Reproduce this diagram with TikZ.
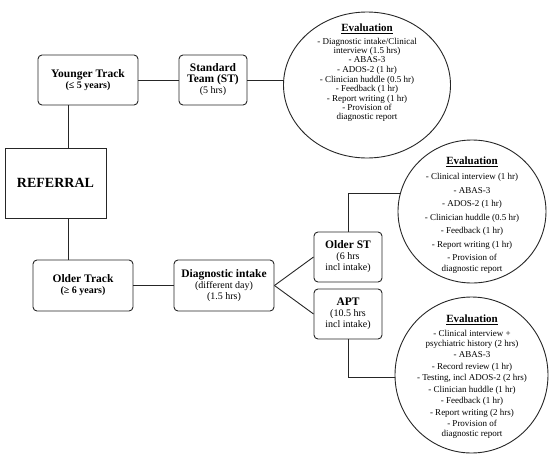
\documentclass[tikz,border=0pt]{standalone}
\usepackage{fontspec}
\setmainfont{Liberation Serif}
\usetikzlibrary{shapes.geometric}
\tikzset{
  box/.style={draw=black!85, line width=0.9pt, rounded corners=4pt, align=center, inner sep=0pt},
  sqbox/.style={draw=black!85, line width=0.9pt, align=center, inner sep=0pt},
  evalcirc/.style={draw=black!85, line width=0.9pt, ellipse, inner sep=0pt},
  conn/.style={draw=black!85, line width=0.9pt},
  evtext/.style={align=center, inner sep=0pt, anchor=north},
}
\newcommand{\subt}[1]{{\fontsize{10}{11.5}\selectfont #1}}
\newcommand{\bt}[1]{{\fontsize{11.5}{13}\selectfont\bfseries #1}}
\newcommand{\evtitle}{{\fontsize{11}{12}\selectfont\bfseries\underline{Evaluation}}}
\begin{document}
\begin{tikzpicture}[x=1pt,y=-1pt]
\useasboundingbox (0,0) rectangle (550,456);
% boxes
\node[box, minimum width=100pt, minimum height=50pt] (yt) at (88,80)
  {\bt{Younger Track}\\[-1pt]\subt{\bfseries (≤ 5 years)}};
\node[box, minimum width=68pt, minimum height=50pt] (st) at (213,80)
  {\bt{Standard}\\[-1pt]\bt{Team (ST)}\\[-1pt]\subt{(5 hrs)}};
\node[sqbox, minimum width=101pt, minimum height=70pt] (ref) at (55.5,183)
  {{\fontsize{14}{16}\selectfont\bfseries REFERRAL}};
\node[box, minimum width=100pt, minimum height=51pt] (ot) at (83,285.5)
  {\bt{Older Track}\\[-1pt]\subt{\bfseries (≥ 6 years)}};
\node[box, minimum width=100pt, minimum height=51pt] (di) at (224,285.5)
  {\bt{Diagnostic intake}\\[-1pt]\subt{(different day)}\\[-1pt]\subt{(1.5 hrs)}};
\node[box, minimum width=68pt, minimum height=50pt] (ost) at (348,257)
  {\bt{Older ST}\\[-1pt]\subt{(6 hrs}\\[-1pt]\subt{incl intake)}};
\node[box, minimum width=68pt, minimum height=50pt] (apt) at (348,314)
  {\bt{APT}\\[-1pt]\subt{(10.5 hrs}\\[-1pt]\subt{incl intake)}};
% evaluation ellipses
\node[evalcirc, minimum width=167pt, minimum height=146pt] (c1) at (367,85) {};
\node[evalcirc, minimum width=148pt, minimum height=143pt] (c2) at (472,211.5) {};
\node[evalcirc, minimum width=153pt, minimum height=156pt] (c3) at (471.5,375) {};
% evaluation texts
\node[evtext, font=\fontsize{9}{9}\selectfont] (t1) at (367,24)
  {\evtitle\\[3.5pt]
   - Diagnostic intake/Clinical\\ interview (1.5 hrs)\\[0.6pt]
   - ABAS-3\\[0.6pt]
   - ADOS-2 (1 hr)\\[0.6pt]
   - Clinician huddle (0.5 hr)\\[0.6pt]
   - Feedback (1 hr)\\[0.6pt]
   - Report writing (1 hr)\\[0.6pt]
   - Provision of\\ diagnostic report};
\node[evtext, font=\fontsize{9}{11}\selectfont] (t2) at (472,157)
  {\evtitle\\[4pt]
   - Clinical interview (1 hr)\\[2.5pt]
   - ABAS-3\\[2.5pt]
   - ADOS-2 (1 hr)\\[2.5pt]
   - Clinician huddle (0.5 hr)\\[2.5pt]
   - Feedback (1 hr)\\[2.5pt]
   - Report writing (1 hr)\\[2.5pt]
   - Provision of\\ diagnostic report};
\node[evtext, font=\fontsize{9}{10}\selectfont] (t3) at (472,315)
  {\evtitle\\[3.5pt]
   - Clinical interview +\\ psychiatric history (2 hrs)\\[1.5pt]
   - ABAS-3\\[1.5pt]
   - Record review (1 hr)\\[1.5pt]
   - Testing, incl ADOS-2 (2 hrs)\\[1.5pt]
   - Clinician huddle (1 hr)\\[1.5pt]
   - Feedback (1 hr)\\[1.5pt]
   - Report writing (2 hrs)\\[1.5pt]
   - Provision of\\ diagnostic report};
% connectors
\coordinate (lx) at (68,0);
\draw[conn] (yt.south -| lx) -- (ref.north -| lx);
\draw[conn] (ref.south -| lx) -- (ot.north -| lx);
\draw[conn] (yt.east) -- (st.west);
\draw[conn] (st.east) -- (c1.176 |- st.east);
\draw[conn] (ot.east) -- (di.west);
\draw[conn] (di.east) -- (ost.west);
\draw[conn] (di.east) -- (apt.west);
\draw[conn] (ost.north) |- (c2.166.5);
\draw[conn] (apt.south) |- (c3.182);
\end{tikzpicture}
\end{document}
